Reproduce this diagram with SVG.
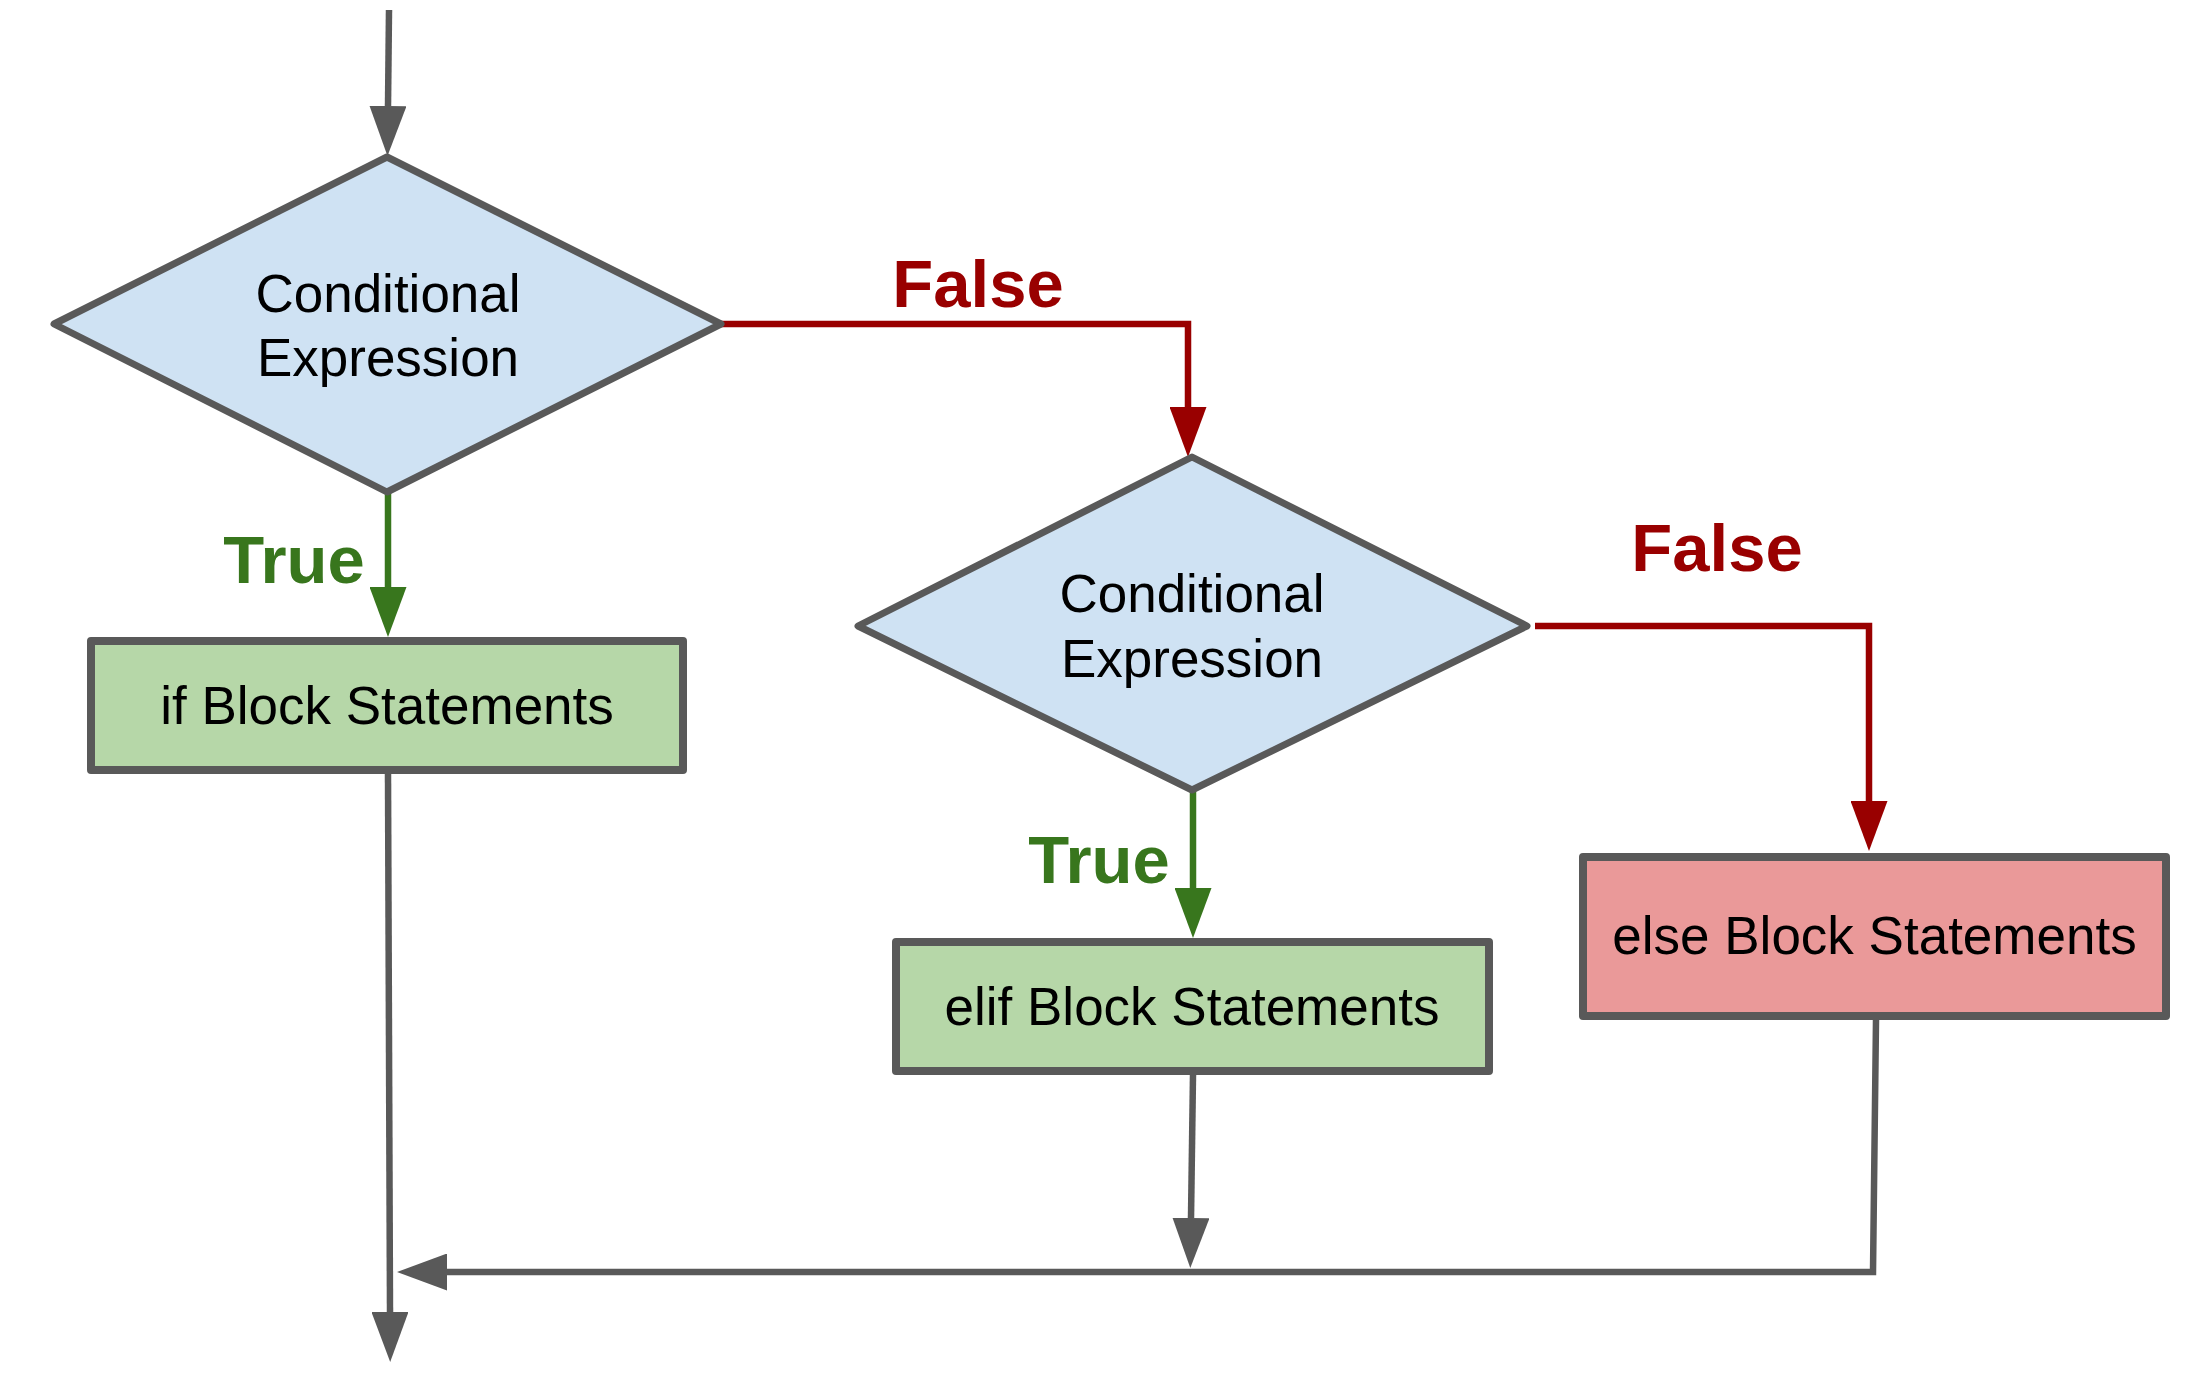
<svg xmlns="http://www.w3.org/2000/svg" width="2199" height="1379" viewBox="0 0 2199 1379">
  <style>
    .decision { fill: #cfe2f3; stroke: #595959; stroke-width: 7; stroke-linejoin: round; }
    .block { stroke: #595959; stroke-width: 8; stroke-linejoin: round; }
    .block-true { fill: #b6d7a8; }
    .block-else { fill: #ea9999; }
    .label { font-family: "Liberation Sans", Arial, sans-serif; font-size: 53px; fill: #000000; text-anchor: middle; }
    .branch { font-family: "Liberation Sans", Arial, sans-serif; font-size: 67px; font-weight: bold; text-anchor: middle; }
    .branch-false { fill: #990000; }
    .branch-true { fill: #38761d; }
    .edge { fill: none; stroke-width: 6.5; stroke-linejoin: miter; stroke-linecap: butt; }
    .edge-gray { stroke: #595959; }
    .edge-red { stroke: #990000; }
    .edge-green { stroke: #38761d; }
  </style>
  <defs>
    <marker id="arrow-gray" viewBox="0 0 50 37" markerWidth="50" markerHeight="37" refX="0" refY="18.5" orient="auto" markerUnits="userSpaceOnUse">
      <path d="M0,0 L50,18.5 L0,37 Z" fill="#595959"/>
    </marker>
    <marker id="arrow-red" viewBox="0 0 50 37" markerWidth="50" markerHeight="37" refX="0" refY="18.5" orient="auto" markerUnits="userSpaceOnUse">
      <path d="M0,0 L50,18.5 L0,37 Z" fill="#990000"/>
    </marker>
    <marker id="arrow-green" viewBox="0 0 50 37" markerWidth="50" markerHeight="37" refX="0" refY="18.5" orient="auto" markerUnits="userSpaceOnUse">
      <path d="M0,0 L50,18.5 L0,37 Z" fill="#38761d"/>
    </marker>
  </defs>

  <rect x="0" y="0" width="2199" height="1379" fill="#ffffff"/>

  <!-- connectors -->
  <g id="connectors">
    <path class="edge edge-gray" d="M389,10 L388,106" marker-end="url(#arrow-gray)"/>
    <path class="edge edge-red" d="M721,324 H1188 V407" marker-end="url(#arrow-red)"/>
    <path class="edge edge-green" d="M388,493 V587" marker-end="url(#arrow-green)"/>
    <path class="edge edge-red" d="M1535,626 H1869 V801" marker-end="url(#arrow-red)"/>
    <path class="edge edge-green" d="M1193,790 V888" marker-end="url(#arrow-green)"/>
    <path class="edge edge-gray" d="M388,774 L390,1312" marker-end="url(#arrow-gray)"/>
    <path class="edge edge-gray" d="M1193,1075 L1191,1218" marker-end="url(#arrow-gray)"/>
    <path class="edge edge-gray" d="M1876,1020 L1873,1272 H447" marker-end="url(#arrow-gray)"/>
    <text class="branch branch-false" x="978" y="307">False</text>
    <text class="branch branch-true" x="294" y="583">True</text>
    <text class="branch branch-false" x="1717" y="571">False</text>
    <text class="branch branch-true" x="1099" y="883">True</text>
  </g>

  <!-- first condition -->
  <g id="cond-if">
    <polygon class="decision" points="387,157 721,324 387,492 54,324"/>
    <text class="label" x="388" y="312">Conditional</text>
    <text class="label" x="388" y="376">Expression</text>
  </g>

  <!-- second condition -->
  <g id="cond-elif">
    <polygon class="decision" points="1192,457 1527,626 1192,790 858,626"/>
    <text class="label" x="1192" y="612">Conditional</text>
    <text class="label" x="1192" y="677">Expression</text>
  </g>

  <g id="block-if">
    <rect class="block block-true" x="91" y="641" width="592" height="129"/>
    <text class="label" x="387" y="724">if Block Statements</text>
  </g>

  <g id="block-elif">
    <rect class="block block-true" x="896" y="942" width="593" height="129"/>
    <text class="label" x="1192" y="1025">elif Block Statements</text>
  </g>

  <g id="block-else">
    <rect class="block block-else" x="1583" y="857" width="583" height="159"/>
    <text class="label" x="1874.5" y="954">else Block Statements</text>
  </g>
</svg>
